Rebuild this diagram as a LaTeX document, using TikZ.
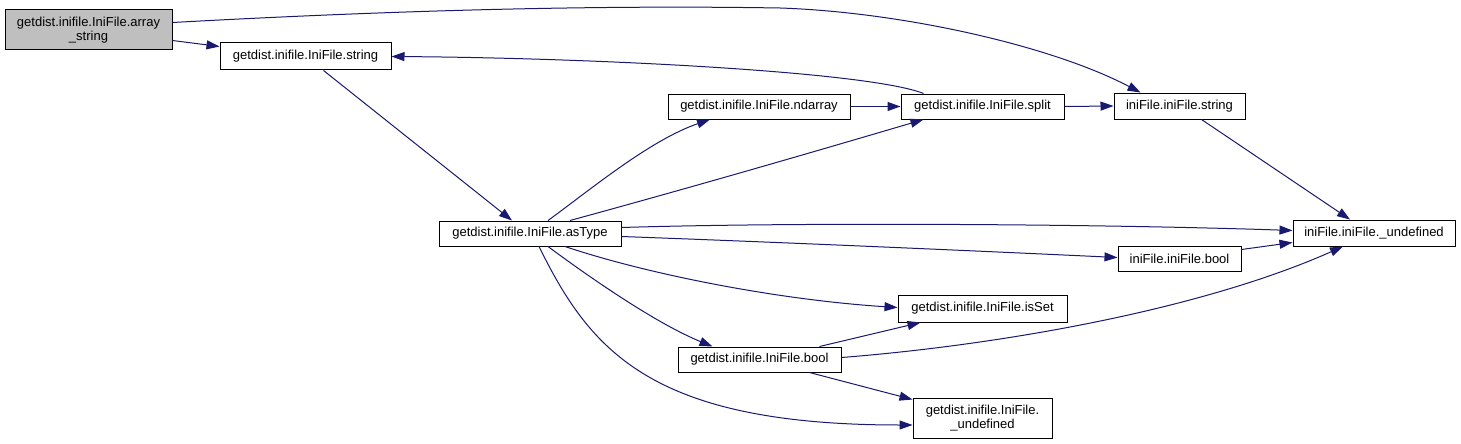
\documentclass[tikz,border=0pt]{standalone}
\usepackage{fontspec}
\setmainfont{Liberation Sans}
\usepackage{xcolor}
\usepackage{tikz}
\usetikzlibrary{arrows.meta,calc}
\definecolor{edge}{HTML}{191970}
\definecolor{current}{HTML}{BFBFBF}
\newcommand{\fnfont}{\fontsize{13}{13.5}\selectfont}
\tikzset{
  fn/.style={draw=black,fill=white,line width=1pt,inner sep=2pt,minimum height=26pt,align=center,font=\fnfont,text=black},
  cur/.style={fn,fill=current},
  call/.style={-{Triangle[length=13pt,width=9pt]},draw=edge,line width=1pt},
}

\begin{document}
\begin{tikzpicture}[x=1pt,y=-1pt]
    \fill[white] (0,0) rectangle (1461,444);
    \useasboundingbox (0,0) rectangle (1461,444);
    \node[cur,minimum width=167pt,minimum height=40pt] (arrstr) at (88.5,30) {getdist.inifile.IniFile.array\\\_string};
    \node[fn,minimum width=171pt,minimum height=27pt] (inistr) at (305.5,56.5) {getdist.inifile.IniFile.string};
    \node[fn,minimum width=182pt,minimum height=25pt] (ndarr) at (759,106.5) {getdist.inifile.IniFile.ndarray};
    \node[fn,minimum width=163pt,minimum height=25pt] (split) at (982.5,106.5) {getdist.inifile.IniFile.split};
    \node[fn,minimum width=131pt,minimum height=26pt] (ifstr) at (1179.5,106) {iniFile.iniFile.string};
    \node[fn,minimum width=182pt,minimum height=25pt] (astype) at (530,233.5) {getdist.inifile.IniFile.asType};
    \node[fn,minimum width=162pt,minimum height=26pt] (ifundef) at (1374,233) {iniFile.iniFile.\_undefined};
    \node[fn,minimum width=123pt,minimum height=25pt] (ifbool) at (1179.5,258.5) {iniFile.iniFile.bool};
    \node[fn,minimum width=169pt,minimum height=27pt] (isset) at (982.5,308.5) {getdist.inifile.IniFile.isSet};
    \node[fn,minimum width=163pt,minimum height=25pt] (bool) at (759.5,359.5) {getdist.inifile.IniFile.bool};
    \node[fn,minimum width=139pt,minimum height=40pt] (undef) at (982.5,418) {getdist.inifile.IniFile.\\\_undefined};
    \draw[call] ($(arrstr.north east)+(0,13)$) .. controls (400,10) and (600,5) .. (780,8)
      .. controls (900,12) and (1050,45) .. ($(ifstr.north)+(-39,0)$);
    \draw[call] ($(arrstr.north east)+(0,31)$) -- ($(inistr.north west)+(0,4)$);
    \draw[call] ($(split.north)+(-59,0)$) .. controls (870,72) and (600,58) .. (inistr.east);
    \draw[call] ($(inistr.south)+(18,0)$) -- ($(astype.north)+(-18,0)$);
    \draw[call] ($(astype.north)+(18,0)$) .. controls (590,190) and (650,140) .. ($(ndarr.south)+(-49,0)$);
    \draw[call] ($(astype.north)+(40,0)$) .. controls (700,185) and (820,150) .. ($(split.south)+(-59,0)$);
    \draw[call] (ndarr.east) -- (split.west);
    \draw[call] (split.east) -- (ifstr.west);
    \draw[call] ($(ifstr.south)+(22,0)$) -- ($(ifundef.north)+(-24,0)$);
    \draw[call] ($(astype.north east)+(0,7)$) .. controls (800,222) and (1100,224) .. ($(ifundef.north west)+(0,11)$);
    \draw[call] ($(astype.north east)+(0,16)$) .. controls (800,243) and (1000,252) .. ($(ifbool.west)+(0,-1)$);
    \draw[call] ($(ifbool.north east)+(0,4)$) -- ($(ifundef.south west)+(0,-4)$);
    \draw[call] ($(astype.south)+(35,0)$) .. controls (650,275) and (780,300) .. ($(isset.west)+(0,-1)$);
    \draw[call] ($(astype.south)+(18,0)$) .. controls (600,285) and (660,325) .. ($(bool.north)+(-47,0)$);
    \draw[call] ($(astype.south)+(9,0)$) .. controls (590,350) and (650,425) .. ($(undef.west)+(0,7)$);
    \draw[call] ($(bool.north)+(60,0)$) -- ($(isset.south)+(-62,0)$);
    \draw[call] ($(bool.east)+(0,-2)$) .. controls (1000,345) and (1200,310) .. ($(ifundef.south)+(-31,0)$);
    \draw[call] ($(bool.south)+(50,0)$) -- ($(undef.north west)+(0,2)$);
  \end{tikzpicture}
\end{document}
